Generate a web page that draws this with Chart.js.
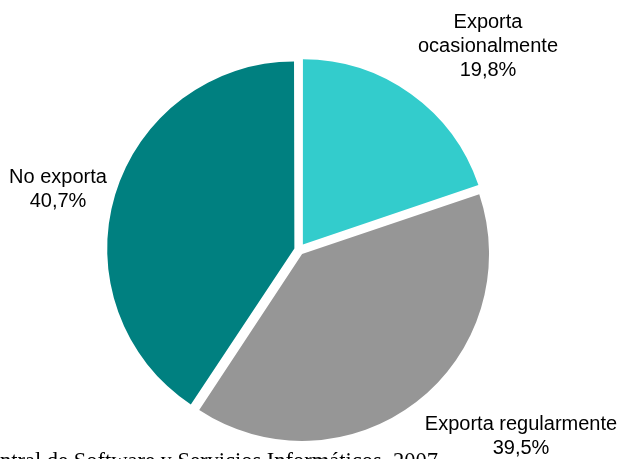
<!DOCTYPE html>
<html>
<head>
<meta charset="utf-8">
<script src="https://cdn.jsdelivr.net/npm/chart.js@4"></script>
<style>
    html, body { margin: 0; padding: 0; background: #ffffff; }
    #wrap { width: 623px; height: 459px; position: relative; }
</style>
</head>
<body>
<div id="wrap"><canvas id="pie"></canvas></div>
<script>
// Datos del gráfico
const categories = ['Exporta ocasionalmente', 'Exporta regularmente', 'No exporta'];
const shares = [19.8, 39.5, 40.7];
const sliceColors = ['#33cccc', '#969696', '#008080'];
const labelLines = [
    ['Exporta', 'ocasionalmente', '19,8%'],
    ['Exporta regularmente', '39,5%'],
    ['No exporta', '40,7%']
];
const sourceText = 'Central de Software y Servicios Informáticos, 2007';

// Posiciones de las etiquetas (centro de la primera línea)
const LABEL_POS = [
    { x: 488, y: 22 },
    { x: 521, y: 424 },
    { x: 58, y: 177 }
];

// Desplazamiento deseado de cada porción (px)
const EXPLODE = 7;

// Chart.js v4 traslada offset/4 * (1 + fix); se compensa para que todas se muevan igual
function sliceOffset(context) {
    const total = shares.reduce((s, v) => s + v, 0);
    const circ = (context.raw / total) * Math.PI * 2;
    const fix = 1 - Math.sin(Math.min(Math.PI, circ));
    return (EXPLODE * 4) / (1 + fix);
}

const outsideLabels = {
    id: 'outsideLabels',
    afterDraw(chart) {
        const ctx = chart.ctx;
        ctx.save();
        ctx.fillStyle = '#000000';
        ctx.font = "20px 'Liberation Sans', Arial, sans-serif";
        ctx.textAlign = 'center';
        ctx.textBaseline = 'middle';
        labelLines.forEach((lines, i) => {
            lines.forEach((line, j) => {
                ctx.fillText(line, LABEL_POS[i].x, LABEL_POS[i].y + j * 24);
            });
        });
        // Fuente (recortada en el borde)
        ctx.font = "22.5px 'Liberation Serif', 'Times New Roman', serif";
        ctx.textAlign = 'right';
        ctx.textBaseline = 'alphabetic';
        ctx.fillText(sourceText, 438, 468);
        ctx.restore();
    }
};

new Chart(document.getElementById('pie').getContext('2d'), {
    type: 'pie',
    data: {
        labels: categories,
        datasets: [{
            data: shares,
            backgroundColor: sliceColors,
            borderWidth: 0,
            offset: sliceOffset
        }]
    },
    options: {
        responsive: true,
        maintainAspectRatio: false,
        animation: false,
        radius: 185,
        layout: {
            padding: { top: 45, bottom: 4, left: 110, right: 135 }
        },
        plugins: {
            legend: { display: false },
            tooltip: { enabled: false }
        }
    },
    plugins: [outsideLabels]
});
</script>
</body>
</html>
